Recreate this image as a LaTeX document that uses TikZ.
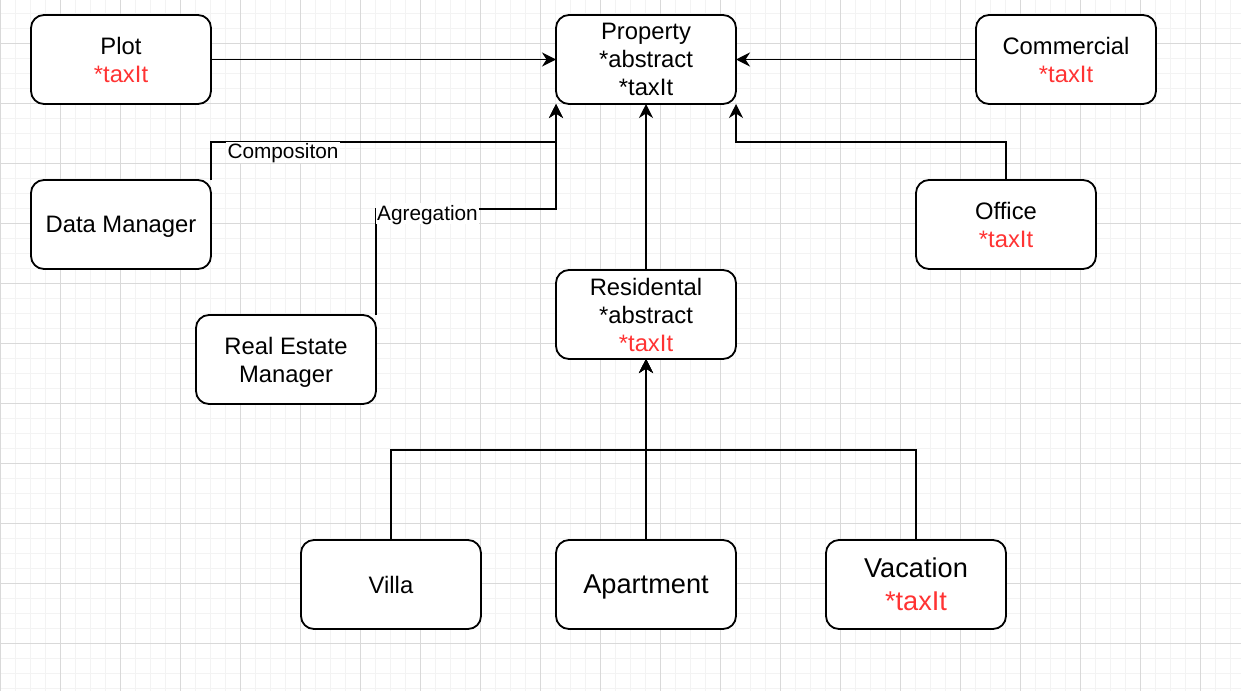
\documentclass[tikz,border=0pt]{standalone}
\usepackage{fontspec}
\setmainfont{Liberation Sans}
\usetikzlibrary{arrows.meta, positioning}
\definecolor{taxred}{HTML}{FF3333}
\definecolor{gridminor}{HTML}{F3F3F3}
\definecolor{gridmajor}{HTML}{D9D9D9}
\newcommand{\taxit}{\textcolor{taxred}{*taxIt}}

\begin{document}
\begin{tikzpicture}[
  x=1pt, y=-1pt,
  classbox/.style={rectangle, draw=black, line width=1.8pt, rounded corners=13pt, fill=white, minimum width=180pt, minimum height=89pt, align=center, inner sep=0pt, outer sep=0pt, font=\fontsize{23.8}{28}\selectfont},
  bigtext/.style={font=\fontsize{27.2}{33}\selectfont},
  edgelbl/.style={fill=white, inner xsep=1.5pt, inner ysep=0pt, text height=17pt, text depth=4pt, font=\fontsize{20.8}{24}\selectfont},
  arr/.style={-{Stealth[length=14pt, width=14pt, inset=4.5pt]}, line width=1.8pt},
  minorgrid/.style={draw=gridminor, line width=1pt},
  majorgrid/.style={draw=gridmajor, line width=1pt}
]
\useasboundingbox (0,0) rectangle (1241,691);
\fill[white] (0,0) rectangle (1241,691);
\foreach \gx in {0,15,...,1240} \draw[minorgrid] (\gx,0) -- (\gx,691);
\foreach \gy in {13,28,...,691} \draw[minorgrid] (0,\gy) -- (1241,\gy);
\foreach \gx in {0,60,...,1200} \draw[majorgrid] (\gx,0) -- (\gx,691);
\foreach \gy in {43,103,...,643} \draw[majorgrid] (0,\gy) -- (1241,\gy);

\node[classbox] (plot) at (121,59.5) {Plot\\\taxit};
\node[classbox] (prop) at (646,59.5) {Property\\*abstract\\*taxIt};
\node[classbox] (comm) at (1066,59.5) {Commercial\\\taxit};
\node[classbox, text depth=0pt] (datamgr) at (121,224.5) {Data Manager};
\node[classbox] (office) at (1006,224.5) {Office\\\taxit};
\node[classbox] (resid) at (646,314.5) {Residental\\*abstract\\\taxit};
\node[classbox] (remgr) at (286,359.5) {Real Estate\\\smash{Manager}};
\node[classbox, bigtext, text depth=0pt] (apt) at (646,584.5) {Apartment};
\node[classbox, left=75pt of apt] (villa) {Villa};
\node[classbox, bigtext, right=90pt of apt] (vac) {Vacation\\\taxit};

\draw[arr] (plot.east) -- (prop.west);
\draw[arr] (comm.west) -- (prop.east);
\draw[arr] (resid.north) -- (prop.south);
\draw[arr] (office.north) -- ++(0,-38) -| (prop.south east);
\draw[arr] (datamgr.north east) -- ++(0,-38) -| (prop.south west);
\draw[arr] (remgr.north east) -- ++(0,-106) -| (prop.south west);
\draw[arr] (villa.north) -- ++(0,-90) -| (resid.south);
\draw[arr] (apt.north) -- (resid.south);
\draw[arr] (vac.north) -- ++(0,-90) -| (resid.south);

\node[edgelbl] (complbl) at (283,152) {Compositon};
\node[edgelbl] (agglbl) at (427.5,213.5) {Agregation};
\end{tikzpicture}
\end{document}
